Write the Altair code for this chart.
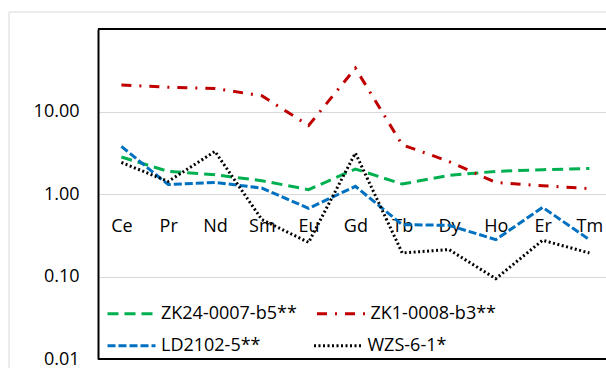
import altair as alt
import pandas as pd

elements = ["Ce", "Pr", "Nd", "Sm", "Eu", "Gd", "Tb", "Dy", "Ho", "Er", "Tm"]
series_names = ["ZK24-0007-b5**", "ZK1-0008-b3**", "LD2102-5**", "WZS-6-1*"]
zk24 = [2.81, 1.88, 1.71, 1.45, 1.13, 2.01, 1.32, 1.68, 1.88, 1.97, 2.04]
zk1 = [21.0, 19.7, 19.0, 15.5, 6.77, 33.5, 3.95, 2.48, 1.38, 1.26, 1.16]
ld2102 = [3.77, 1.30, 1.38, 1.18, 0.67, 1.24, 0.425, 0.417, 0.28, 0.69, 0.28]
wzs = [2.41, 1.42, 3.28, 0.49, 0.259, 3.14, 0.193, 0.212, 0.094, 0.275, 0.193]
y_ticks = [0.01, 0.1, 1, 10]

colors = ["#00B050", "#C00000", "#0070C0", "#000000"]
dashes = [[11, 6], [10, 8, 2, 8], [8, 3], [2, 2.5]]
widths = [3, 3, 3, 2.5]

rows = []
for name, vals in zip(series_names, [zk24, zk1, ld2102, wzs]):
    for i, (el, v) in enumerate(zip(elements, vals)):
        rows.append({"series": name, "idx": i, "element": el, "value": v})
df = pd.DataFrame(rows)

FONT = "Open Sans"
W, H = 508, 330
label_expr = "[" + ",".join("'%s'" % e for e in elements) + "][datum.value]"

xscale = alt.Scale(domain=[-0.5, -0.5 + W / 46.8], nice=False, zero=False)
yscale = alt.Scale(type="log", domain=[0.01, 100], nice=False)

x_enc = alt.X("idx:Q", scale=xscale,
              axis=alt.Axis(values=list(range(len(elements))), labelExpr=label_expr,
                            title=None, domain=False, ticks=False, tickSize=0, grid=False,
                            offset=-(H / 2), labelPadding=32, labelBaseline="middle",
                            labelFont=FONT, labelFontSize=18, labelColor="#000000"))
y_enc = alt.Y("value:Q", scale=yscale,
              axis=alt.Axis(values=y_ticks, format=".2f", title=None, ticks=False,
                            domain=True, domainColor="#000000", domainWidth=2,
                            grid=True, gridColor="#D9D9D9", gridWidth=1,
                            labelPadding=19, labelFont=FONT, labelFontSize=18,
                            labelColor="#000000"))


def series_layer(members, legend_y, col_pad):
    kw = dict(title=None, orient="none", direction="horizontal", legendX=8, legendY=legend_y,
              values=members, symbolType="stroke", symbolSize=2304, symbolStrokeWidth=3,
              labelFont=FONT, labelFontSize=18, labelColor="#000000",
              labelOffset=4, labelLimit=400, columnPadding=col_pad)
    return alt.Chart(df).transform_filter(
        alt.FieldOneOfPredicate(field="series", oneOf=members)
    ).mark_line(clip=True).encode(
        x=x_enc,
        y=y_enc,
        color=alt.Color("series:N", scale=alt.Scale(domain=series_names, range=colors),
                        legend=alt.Legend(**kw)),
        strokeDash=alt.StrokeDash("series:N",
                                  scale=alt.Scale(domain=series_names, range=dashes),
                                  legend=alt.Legend(**kw)),
        strokeWidth=alt.StrokeWidth("series:N",
                                    scale=alt.Scale(domain=series_names, range=widths),
                                    legend=None),
        detail="series:N",
    )


row1 = series_layer([series_names[0], series_names[1]], 259, 13.5)
row2 = series_layer([series_names[2], series_names[3]], 291, 46.5)

top_border = alt.Chart().mark_rule(color="#000000", strokeWidth=2).encode(y=alt.datum(100))
bottom_border = alt.Chart().mark_rule(color="#000000", strokeWidth=2).encode(y=alt.datum(0.01))

outer_v = alt.Chart().mark_rule(color="#D9D9D9", strokeWidth=1).encode(
    x=alt.value(-89), y=alt.value(-17), y2=alt.value(H + 9))
outer_h = alt.Chart().mark_rule(color="#D9D9D9", strokeWidth=1).encode(
    x=alt.value(-89), x2=alt.value(W), y=alt.value(-17))

chart = alt.layer(outer_v, outer_h, row1, row2, top_border, bottom_border).resolve_legend(
    color="independent", strokeDash="independent"
).properties(
    width=W, height=H,
    autosize=alt.AutoSizeParams(type="none"),
    padding={"left": 98, "top": 29, "right": 0, "bottom": 9},
    background="#FFFFFF",
).configure_view(stroke=None)

chart.save("out.html", embed_options={"renderer": "svg", "actions": False})
